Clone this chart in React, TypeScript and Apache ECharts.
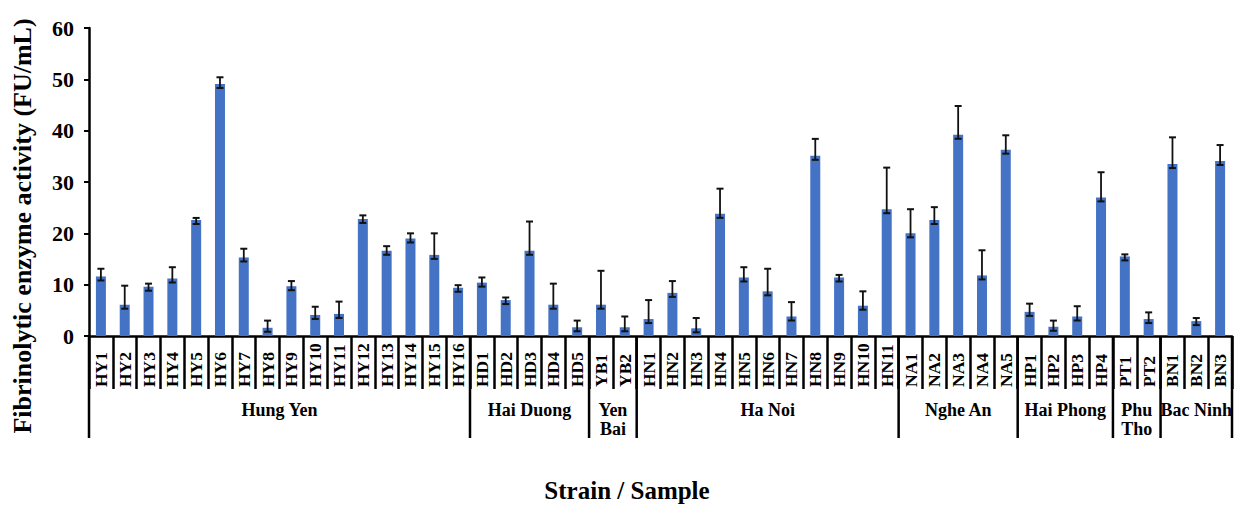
import React, { useEffect, useRef } from "react";
import * as echarts from "echarts";

const categories = [
  "HY1","HY2","HY3","HY4","HY5","HY6","HY7","HY8","HY9","HY10","HY11","HY12","HY13","HY14","HY15","HY16",
  "HD1","HD2","HD3","HD4","HD5",
  "YB1","YB2",
  "HN1","HN2","HN3","HN4","HN5","HN6","HN7","HN8","HN9","HN10","HN11",
  "NA1","NA2","NA3","NA4","NA5",
  "HP1","HP2","HP3","HP4",
  "PT1","PT2",
  "BN1","BN2","BN3",
];

const values = [
  11.6, 6.1, 9.6, 11.2, 22.6, 49.1, 15.3, 1.6, 9.7, 4.1, 4.3, 22.8, 16.6, 19.0, 15.8, 9.4,
  10.4, 7.0, 16.6, 6.1, 1.7,
  6.1, 1.7,
  3.3, 8.4, 1.5, 23.8, 11.4, 8.7, 3.8, 35.1, 11.4, 5.9, 24.7,
  20.0, 22.6, 39.2, 11.8, 36.3,
  4.7, 1.8, 3.8, 27.0,
  15.5, 3.3,
  33.5, 2.9, 34.1,
];

const errors = [
  1.5, 3.7, 0.6, 2.2, 0.4, 1.3, 1.7, 1.4, 1.0, 1.6, 2.4, 0.7, 0.9, 1.0, 4.2, 0.5,
  1.0, 0.5, 5.7, 4.1, 1.3,
  6.6, 2.1,
  3.7, 2.3, 2.0, 4.9, 2.0, 4.4, 2.8, 3.3, 0.5, 2.8, 8.1,
  4.7, 2.5, 5.6, 4.9, 2.8,
  1.6, 1.2, 2.0, 4.9,
  0.4, 1.3,
  5.2, 0.6, 3.1,
];

const groups = ["Hung Yen", "Hai Duong", "Yen\nBai", "Ha Noi", "Nghe An", "Hai Phong", "Phu\nTho", "Bac Ninh"];
const groupSizes = [16, 5, 2, 11, 5, 4, 2, 3];

const yTicks = { min: 0, max: 60, interval: 10 };

const FONT = "'Liberation Serif', 'Times New Roman', serif";

export default function App() {
  const ref = useRef<HTMLDivElement>(null);

  useEffect(() => {
    if (!ref.current) return;
    const chart = echarts.init(ref.current, null, { renderer: "svg" });

    const option: any = {
      animation: false,
      backgroundColor: "#ffffff",
      grid: { left: 89, right: 3, top: 28, bottom: 169, containLabel: false },
      xAxis: {
        type: "category",
        data: categories,
        boundaryGap: true,
        axisLine: { show: true, lineStyle: { color: "#000", width: 2.5 } },
        axisTick: { show: true, interval: 0, length: 53, lineStyle: { color: "#000", width: 2.5 } },
        axisLabel: {
          interval: 0,
          rotate: 90,
          align: "left",
          verticalAlign: "middle",
          margin: 51,
          color: "#000",
          fontFamily: FONT,
          fontWeight: "bold",
          fontSize: 17.5,
        },
      },
      yAxis: {
        type: "value",
        min: yTicks.min,
        max: yTicks.max,
        interval: yTicks.interval,
        splitLine: { show: false },
        axisLine: { show: true, lineStyle: { color: "#000", width: 2.5 } },
        axisTick: { show: true, length: 5, lineStyle: { color: "#000", width: 2 } },
        axisLabel: {
          color: "#000",
          fontFamily: FONT,
          fontWeight: "bold",
          fontSize: 22,
          margin: 15,
        },
      },
      series: [
        {
          type: "bar",
          data: values,
          barWidth: 10,
          itemStyle: { color: "#4472C4" },
          z: 2,
        },
        {
          type: "custom",
          z: 3,
          data: categories.map((c, i) => [i, values[i], errors[i]]),
          renderItem: (params: any, api: any) => {
            const idx = api.value(0);
            const v = api.value(1);
            const e = api.value(2);
            const top = api.coord([idx, v + e]);
            const base = api.coord([idx, v]);
            const bottomY = base[1] + 4;
            const cap = 3.5;
            const style = { stroke: "#111", lineWidth: 1.8 };
            return {
              type: "group",
              children: [
                { type: "line", shape: { x1: top[0], y1: top[1], x2: top[0], y2: bottomY }, style },
                { type: "line", shape: { x1: top[0] - cap, y1: top[1], x2: top[0] + cap, y2: top[1] }, style: { stroke: "#111", lineWidth: 2 } },
                { type: "line", shape: { x1: top[0] - cap, y1: bottomY, x2: top[0] + cap, y2: bottomY }, style: { stroke: "#111", lineWidth: 2 } },
              ],
            };
          },
        },
      ],
    };

    chart.setOption(option);

    const c0 = chart.convertToPixel({ xAxisIndex: 0 }, categories[0]) as number;
    const c1 = chart.convertToPixel({ xAxisIndex: 0 }, categories[1]) as number;
    const band = c1 - c0;
    const y0 = chart.convertToPixel({ yAxisIndex: 0 }, 0) as number;
    const graphics: any[] = [];
    let start = 0;
    const boundaryX = (i: number) =>
      (chart.convertToPixel({ xAxisIndex: 0 }, categories[Math.min(i, categories.length - 1)]) as number) +
      (i >= categories.length ? band / 2 : -band / 2);
    graphics.push({
      type: "line",
      shape: { x1: boundaryX(0), y1: y0, x2: boundaryX(0), y2: 438 },
      style: { stroke: "#000", lineWidth: 2.5 },
    });
    groups.forEach((g, gi) => {
      const end = start + groupSizes[gi];
      const xs = boundaryX(start);
      const xe = boundaryX(end);
      graphics.push({
        type: "line",
        shape: { x1: xe, y1: y0, x2: xe, y2: 438 },
        style: { stroke: "#000", lineWidth: 2.5 },
      });
      graphics.push({
        type: "text",
        x: (xs + xe) / 2,
        y: 400,
        style: {
          text: g,
          fill: "#000",
          font: `bold 18px ${FONT}`,
          align: "center",
          verticalAlign: "top",
          lineHeight: 19,
        },
      });
      start = end;
    });
    graphics.push({
      type: "text",
      x: 627,
      y: 490,
      style: {
        text: "Strain / Sample",
        fill: "#000",
        font: `bold 25px ${FONT}`,
        align: "center",
        verticalAlign: "middle",
      },
    });
    graphics.push({
      type: "text",
      x: 22,
      y: 226,
      rotation: Math.PI / 2,
      style: {
        text: "Fibrinolytic enzyme activity (FU/mL)",
        fill: "#000",
        font: `bold 26px ${FONT}`,
        align: "center",
        verticalAlign: "middle",
      },
    });
    chart.setOption({ graphic: graphics });

    return () => chart.dispose();
  }, []);

  return (
    <div
      ref={ref}
      style={{ position: "fixed", left: 0, top: 0, width: 1235, height: 505, background: "#fff" }}
    />
  );
}
